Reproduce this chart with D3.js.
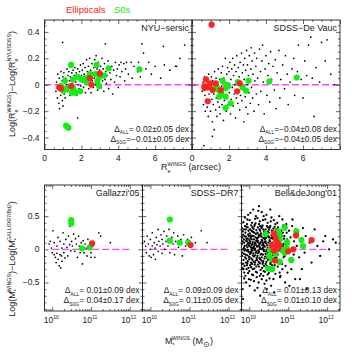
<!DOCTYPE html>
<html>
<head>
<meta charset="utf-8">
<script src="https://cdn.jsdelivr.net/npm/d3@7"></script>
<style>
body { margin: 0; background: #fff; }
svg { font-family: "Liberation Sans", Arial, sans-serif; }
</style>
</head>
<body>
<svg id="chart" width="359" height="359"></svg>
<script>
// ---- data ----
// top row: [Re arcsec, dlog Re]
const nyuBlack = [[0.62,-0.05],[0.65,0.02],[0.7,-0.1],[0.72,0.08],[0.75,-0.02],[0.78,-0.14],[0.8,0.05],[0.82,-0.18],[0.85,0.0],[0.88,-0.08],[0.9,0.1],[0.92,-0.04],[0.95,0.03],[0.97,-0.12],[0.98,0.32],[1.0,-0.16],[1.0,0.06],
  [1.02,-0.02],[1.05,0.09],[1.07,-0.07],[1.1,0.02],[1.12,-0.1],[1.15,0.05],[1.17,-0.33],[1.2,0.0],[1.22,0.12],[1.25,-0.05],[1.27,0.07],[1.3,-0.02],[1.32,0.1],[1.35,0.03],[1.38,-0.08],[1.4,0.06],[1.42,0.14],[1.45,-0.03],[1.48,0.09],[1.5,0.01],
  [1.52,-0.06],[1.55,0.11],[1.57,0.04],[1.6,-0.01],[1.62,0.07],[1.65,0.13],[1.67,-0.04],[1.7,0.02],[1.72,0.09],[1.75,-0.08],[1.77,0.05],[1.8,-0.25],[1.8,0.12],[1.82,0.0],[1.85,0.07],[1.87,-0.03],[1.9,0.1],[1.92,0.04],[1.95,0.15],[1.97,-0.01],
  [2.0,0.07],[2.02,-0.05],[2.05,0.11],[2.07,0.02],[2.1,0.16],[2.12,-0.02],[2.15,0.08],[2.17,0.04],[2.2,0.13],[2.22,-0.06],[2.25,0.06],[2.28,0.19],[2.3,0.01],[2.32,0.1],[2.35,0.04],[2.38,0.14],[2.4,-0.03],[2.42,0.08],[2.45,0.2],[2.48,0.02],
  [2.5,0.11],[2.52,-0.06],[2.55,0.06],[2.58,0.16],[2.6,0.03],[2.62,0.09],[2.65,-0.02],[2.68,0.13],[2.7,0.05],[2.72,0.19],[2.75,0.0],[2.78,0.1],[2.8,0.22],[2.82,0.04],[2.85,0.12],[2.88,-0.04],[2.9,0.08],[2.92,0.17],[2.95,0.02],[2.98,0.11],
  [3.02,0.06],[3.05,0.14],[3.08,-0.02],[3.1,0.09],[3.12,0.2],[3.15,0.03],[3.18,0.12],[3.2,0.07],[3.22,-0.05],[3.25,0.16],[3.28,0.04],[3.3,0.31],[3.32,0.1],[3.35,0.01],[3.38,0.13],[3.4,0.07],[3.45,0.18],[3.48,-0.03],
  [3.55,0.09],[3.6,0.04],[3.65,0.14],[3.7,-0.07],[3.75,0.11],[3.8,0.02],[3.85,0.17],[3.9,0.07],[3.95,0.12],[4.0,-0.02],[4.05,0.15],[4.1,0.06],[4.15,0.17],[4.2,0.1],[4.3,0.16],[4.35,0.03],[4.4,0.12],[4.45,0.17],
  [4.55,0.08],[4.7,0.17],[4.75,0.05],[4.85,0.14],[5.05,0.1],[5.1,0.17],[5.2,0.06],[5.28,0.31],[5.37,0.24],[5.5,0.12],[5.65,0.17],[5.8,0.08],[6.0,0.14],[6.3,0.05],[6.45,0.29],[6.5,0.15],[6.8,0.11],[7.1,0.14],[7.16,0.14],[7.34,0.2],[7.6,0.3]];
const nyuS0 = [[1.44,0.15],[2.83,0.15],[3.48,0.125],[5.15,0.117],[1.11,0.03],[1.54,0.04],[1.8,0.06],[2.0,0.04],[2.28,0.02],[2.46,0.08],[2.78,0.08],[3.0,0.06],[3.24,0.07],[2.87,0.025],[2.96,-0.01],[0.89,-0.01],[1.02,-0.045],[1.2,-0.03],[1.48,-0.06],[1.67,-0.06],[1.94,-0.05],[1.17,-0.31],[1.3,-0.325],[2.22,0.05],[1.57,-0.03]];
const nyuE = [[0.8,-0.02],[0.89,-0.03],[1.44,-0.01],[2.46,0.05],[2.55,0.0],[3.0,0.085]];

const devBlack = [[0.55,-0.05],[0.6,0.02],[0.62,-0.15],[0.64,-0.46],[0.68,0.06],[0.7,-0.08],[0.72,-0.2],[0.75,0.0],[0.78,-0.11],[0.8,0.04],[0.82,-0.17],[0.85,-0.03],[0.88,-0.24],[0.9,0.08],[0.92,-0.07],[0.95,-0.13],[0.98,0.02],
  [1.0,-0.2],[1.02,-0.05],[1.05,0.06],[1.07,-0.11],[1.1,-0.28],[1.1,-0.39],[1.12,0.03],[1.15,-0.15],[1.18,-0.07],[1.2,-0.34],[1.22,0.1],[1.25,-0.02],[1.28,-0.19],[1.3,0.05],[1.32,-0.1],[1.35,-0.24],[1.38,0.0],[1.4,-0.13],[1.42,0.12],[1.45,-0.05],[1.48,-0.17],
  [1.5,0.04],[1.52,-0.22],[1.55,-0.1],[1.58,0.09],[1.6,-0.01],[1.62,-0.15],[1.65,0.14],[1.68,-0.06],[1.7,-0.27],[1.72,0.05],[1.75,-0.12],[1.78,0.02],[1.8,0.2],[1.82,-0.04],[1.85,-0.2],[1.88,0.08],[1.9,-0.08],[1.92,0.13],[1.95,-0.15],[1.98,0.01],
  [2.0,0.1],[2.02,-0.06],[2.05,0.17],[2.08,-0.22],[2.1,0.04],[2.12,-0.11],[2.15,0.12],[2.18,-0.02],[2.2,0.2],[2.22,-0.16],[2.25,0.07],[2.28,-0.07],[2.3,0.15],[2.32,0.0],[2.35,-0.25],[2.38,0.1],[2.4,-0.1],[2.42,0.22],[2.45,0.03],[2.48,-0.14],
  [2.5,0.13],[2.52,-0.04],[2.55,0.06],[2.58,-0.19],[2.6,0.17],[2.62,-0.08],[2.65,0.01],[2.68,0.24],[2.7,-0.12],[2.72,0.09],[2.75,-0.03],[2.78,0.15],[2.8,-0.28],[2.82,0.04],[2.85,0.2],[2.88,-0.09],[2.9,0.11],[2.92,-0.17],[2.95,0.26],[2.98,0.0],
  [3.0,0.15],[3.02,-0.22],[3.05,0.07],[3.08,-0.06],[3.1,0.22],[3.12,0.02],[3.15,-0.14],[3.18,0.12],[3.2,0.28],[3.22,-0.02],[3.25,0.18],[3.28,-0.1],[3.3,0.08],[3.35,-0.2],[3.38,0.24],[3.4,0.03],[3.45,0.14],[3.48,-0.07],
  [3.5,0.2],[3.55,0.05],[3.6,-0.15],[3.65,0.27],[3.7,0.1],[3.72,-0.05],[3.78,0.18],[3.82,0.3],[3.85,0.02],[3.9,-0.22],[3.95,0.12],[4.0,0.22],[4.05,-0.08],[4.1,0.07],[4.15,0.16],[4.2,-0.13],[4.25,0.25],[4.3,0.04],[4.38,0.14],[4.45,-0.04],
  [4.5,0.19],[4.55,-0.18],[4.6,0.09],[4.7,0.26],[4.75,-0.1],[4.8,0.04],[4.9,0.15],[5.0,-0.03],[5.05,0.22],[5.15,0.08],[5.2,-0.15],[5.3,0.02],[5.4,0.12],[5.5,0.2],[5.55,-0.08],[5.7,0.1],[5.75,0.3],[5.9,0.04],[6.0,-0.1],[6.1,0.18],[6.2,0.07],[6.3,0.3],[6.42,0.36],[6.5,0.05],[6.6,-0.24],[6.7,0.13],[6.9,0.02],[7.0,0.32],[7.2,0.18],[7.3,0.34],[7.5,0.08],[7.7,0.0]];
const devS0 = [[1.65,0.03],[1.96,-0.01],[1.82,-0.025],[1.9,0.0],[1.43,-0.04],[1.56,-0.07],[1.47,-0.09],[1.82,-0.09],[2.09,-0.14],[1.82,-0.175],[2.48,0.02],[2.74,-0.02],[2.92,-0.045],[3.06,0.03],[4.18,0.025],[5.66,0.055],[1.35,-0.02],[1.12,-0.025]];
const devE = [[1.06,0.455],[0.76,0.04],[0.97,0.01],[0.67,-0.01],[0.67,-0.025],[0.9,-0.02],[1.12,-0.04],[0.85,-0.125],[1.56,-0.04],[2.44,-0.05],[2.58,0.01],[1.29,0.01]];

// bottom row: [log10 M*, dlog M*]
const gallBlack = [[9.92,0.08],[9.95,0.12],[9.98,0.02],[10.0,-0.05],[10.02,0.28],[10.05,0.1],[10.05,-0.08],[10.08,-0.12],[10.1,-0.2],[10.12,-0.06],[10.12,0.05],[10.15,-0.15],[10.15,0.18],[10.18,-0.25],[10.2,-0.08],[10.2,0.12],[10.22,-0.28],[10.24,-0.1],[10.25,-0.18],[10.25,0.02],[10.28,0.25],[10.3,-0.05],[10.3,0.08],[10.33,-0.13],[10.35,0.15],[10.38,0.03],[10.4,-0.1],[10.42,0.2],[10.45,0.35],[10.45,0.07],[10.48,-0.02],[10.5,0.12],[10.52,0.05],[10.55,0.23],[10.58,-0.03],[10.6,0.16],[10.62,0.08],[10.65,-0.12],[10.68,0.2],[10.7,0.05],[10.72,-0.05],[10.75,0.1],[10.78,-0.22],[10.8,0.13],[10.82,-0.05],[10.85,0.08],[10.88,0.02],[10.9,-0.1],[10.92,0.15],[11.0,-0.05],[11.0,-0.12],[11.05,0.05],[11.1,-0.12],[11.2,0.25],[11.25,0.2],[11.5,0.1]];
const gallS0 = [[10.49,0.44],[10.49,0.39],[10.77,0.015],[10.97,0.03]];
const gallE = [[11.03,0.09]];

const dr7Black = [[9.85,0.12],[9.88,0.05],[9.9,-0.05],[9.92,0.2],[9.95,0.08],[9.97,-0.1],[10.0,0.0],[10.0,0.15],[10.02,-0.12],[10.05,0.25],[10.05,0.05],[10.08,-0.08],[10.1,0.1],[10.12,0.02],[10.13,-0.15],[10.15,0.18],[10.17,0.07],[10.2,-0.03],[10.2,0.3],[10.22,0.12],[10.25,0.05],[10.27,0.22],[10.3,-0.06],[10.3,0.15],[10.32,0.08],[10.35,0.27],[10.37,0.0],[10.4,0.12],[10.42,0.2],[10.45,0.05],[10.48,0.3],[10.5,-0.05],[10.55,0.18],[10.58,0.08],[10.6,0.25],[10.62,-0.08],[10.65,0.12],[10.7,0.2],[10.72,0.03],[10.78,0.15],[10.82,-0.1],[10.85,0.22],[10.9,0.05],[10.95,0.15],[11.05,0.18],[11.15,0.1],[11.3,0.28],[11.45,0.1]];
const dr7S0 = [[10.5,0.45],[10.5,0.13],[10.75,0.1],[10.97,0.1]];
const dr7E = [[11.03,0.065]];

const bdjBlack = [
  [9.81,0.32],[9.82,-0.05],[9.83,0.12],[9.84,-0.22],[9.85,0.41],[9.86,0.02],[9.87,-0.35],[9.88,0.2],[9.89,-0.12],[9.81,0.08],[9.82,-0.28],[9.83,0.27],[9.84,0.0],[9.85,-0.16],[9.86,0.15],[9.87,-0.44],[9.88,0.05],[9.89,0.35],[9.81,-0.1],[9.83,-0.6],[9.84,0.22],[9.86,-0.07],[9.87,0.1],[9.88,-0.25],[9.89,0.48],[9.82,0.18],[9.85,-0.3],[9.86,0.3],[9.88,-0.02],[9.84,-0.75],
  [9.9,0.25],[9.91,-0.08],[9.92,0.13],[9.93,-0.3],[9.94,0.38],[9.95,0.03],[9.96,-0.18],[9.97,0.22],[9.98,-0.04],[9.99,0.1],[9.9,-0.4],[9.91,0.3],[9.92,-0.14],[9.93,0.06],[9.94,-0.24],[9.95,0.45],[9.96,0.16],[9.97,-0.36],[9.98,0.28],[9.99,-0.11],[9.9,0.0],[9.91,0.19],[9.92,-0.5],[9.93,0.34],[9.94,-0.02],[9.95,-0.21],[9.96,0.09],[9.97,0.52],[9.98,-0.28],[9.99,0.2],[9.91,-0.2],[9.93,0.16],[9.95,-0.09],[9.96,0.33],[9.97,-0.01],[9.98,0.07],[9.99,-0.45],[9.94,0.12],
  [10.0,0.14],[10.01,-0.12],[10.02,0.3],[10.03,-0.04],[10.04,0.21],[10.05,-0.27],[10.06,0.06],[10.07,0.4],[10.08,-0.16],[10.09,0.11],[10.0,-0.33],[10.01,0.24],[10.02,-0.07],[10.03,0.17],[10.04,-0.2],[10.05,0.36],[10.06,-0.01],[10.07,-0.38],[10.08,0.27],[10.09,-0.09],[10.0,0.05],[10.01,0.44],[10.02,-0.24],[10.03,0.09],[10.04,-0.46],[10.05,0.19],[10.06,-0.14],[10.07,0.02],[10.08,0.33],[10.09,-0.3],[10.0,-0.15],[10.02,0.12],[10.03,0.55],[10.04,0.03],[10.05,-0.05],[10.06,0.28],[10.07,-0.22],[10.08,0.08],[10.09,0.2],[10.01,-0.55],[10.06,0.15],[10.08,-0.02],
  [10.1,0.26],[10.11,-0.06],[10.12,0.15],[10.13,-0.29],[10.14,0.37],[10.15,0.01],[10.16,-0.17],[10.17,0.23],[10.18,-0.03],[10.19,0.12],[10.1,-0.39],[10.11,0.31],[10.12,-0.11],[10.13,0.07],[10.14,-0.23],[10.15,0.46],[10.16,0.18],[10.17,-0.34],[10.18,0.29],[10.19,-0.13],[10.1,0.02],[10.11,0.2],[10.12,-0.48],[10.13,0.35],[10.14,-0.01],[10.15,-0.2],[10.16,0.09],[10.17,0.5],[10.18,-0.26],[10.19,0.17],[10.11,-0.19],[10.12,0.04],[10.13,0.25],[10.14,0.1],[10.15,-0.09],[10.16,0.39],[10.17,-0.05],[10.18,0.13],[10.19,-0.42],[10.1,0.6],[10.14,-0.62],[10.18,0.06],
  [10.2,0.16],[10.21,-0.1],[10.22,0.33],[10.23,-0.02],[10.24,0.22],[10.25,-0.26],[10.26,0.07],[10.27,0.42],[10.28,-0.15],[10.29,0.11],[10.2,-0.35],[10.21,0.25],[10.22,-0.06],[10.23,0.18],[10.24,-0.19],[10.25,0.38],[10.26,0.0],[10.27,-0.4],[10.28,0.28],[10.29,-0.08],[10.2,0.04],[10.21,0.47],[10.22,-0.23],[10.23,0.1],[10.24,-0.5],[10.25,0.2],[10.26,-0.13],[10.27,0.03],[10.28,0.35],[10.29,-0.31],[10.2,-0.16],[10.22,0.13],[10.23,0.58],[10.24,0.05],[10.25,-0.04],[10.26,0.3],[10.27,-0.21],[10.28,0.09],[10.29,0.21],[10.21,-0.58],[10.25,0.65],[10.28,-0.7],
  [10.3,0.24],[10.31,-0.07],[10.32,0.14],[10.33,-0.28],[10.34,0.36],[10.35,0.02],[10.36,-0.18],[10.37,0.22],[10.38,-0.03],[10.39,0.11],[10.3,-0.37],[10.31,0.32],[10.32,-0.12],[10.33,0.06],[10.34,-0.22],[10.35,0.44],[10.36,0.17],[10.37,-0.33],[10.38,0.27],[10.39,-0.14],[10.3,0.01],[10.31,0.19],[10.32,-0.45],[10.33,0.34],[10.34,0.0],[10.35,-0.2],[10.36,0.08],[10.37,0.5],[10.38,-0.25],[10.39,0.18],[10.31,-0.17],[10.33,0.13],[10.35,-0.08],[10.36,0.3],[10.37,-0.01],[10.38,0.05],[10.39,-0.52],[10.34,0.1],[10.32,0.56],[10.36,-0.4],
  [10.4,0.15],[10.41,-0.11],[10.42,0.3],[10.43,-0.03],[10.44,0.2],[10.45,-0.25],[10.46,0.06],[10.47,0.4],[10.48,-0.16],[10.49,0.1],[10.4,-0.34],[10.41,0.24],[10.42,-0.07],[10.43,0.17],[10.44,-0.19],[10.45,0.35],[10.46,-0.01],[10.47,-0.38],[10.48,0.27],[10.49,-0.09],[10.4,0.04],[10.41,0.45],[10.42,-0.22],[10.43,0.09],[10.44,-0.47],[10.45,0.19],[10.46,-0.13],[10.47,0.02],[10.48,0.33],[10.49,-0.29],[10.42,0.12],[10.44,0.52],[10.46,0.26],[10.47,-0.05],[10.49,0.2],[10.45,-0.6],
  [10.5,0.25],[10.51,-0.06],[10.52,0.14],[10.53,-0.27],[10.54,0.35],[10.55,0.02],[10.56,-0.17],[10.57,0.21],[10.58,-0.03],[10.59,0.1],[10.5,-0.36],[10.51,0.3],[10.52,-0.12],[10.53,0.06],[10.54,-0.22],[10.55,0.42],[10.56,0.17],[10.57,-0.32],[10.58,0.28],[10.59,-0.14],[10.5,0.0],[10.51,0.18],[10.52,-0.44],[10.53,0.33],[10.55,-0.2],[10.56,0.08],[10.57,0.48],[10.58,-0.24],[10.59,0.18],[10.53,0.12],[10.56,-0.55],[10.54,0.6],
  [10.6,0.16],[10.61,-0.09],[10.62,0.31],[10.63,-0.02],[10.64,0.21],[10.65,-0.24],[10.66,0.07],[10.67,0.38],[10.68,-0.15],[10.69,0.11],[10.6,-0.32],[10.61,0.25],[10.62,-0.06],[10.63,0.17],[10.64,-0.19],[10.65,0.34],[10.66,0.0],[10.67,-0.37],[10.68,0.27],[10.69,-0.1],[10.6,0.05],[10.62,-0.45],[10.63,0.44],[10.65,0.12],[10.66,-0.13],[10.68,0.03],[10.69,0.3],[10.64,-0.65],
  [10.7,0.22],[10.71,-0.05],[10.72,0.14],[10.73,-0.26],[10.74,0.33],[10.75,0.02],[10.76,-0.16],[10.77,0.2],[10.78,-0.35],[10.79,0.09],[10.7,-0.12],[10.72,0.4],[10.73,0.06],[10.75,-0.21],[10.76,0.27],[10.77,-0.02],[10.78,0.15],[10.79,-0.42],[10.71,0.3],[10.74,-0.08],[10.77,0.5],[10.79,0.24],
  [10.8,0.12],[10.81,-0.18],[10.82,0.28],[10.83,-0.04],[10.84,0.2],[10.85,-0.3],[10.86,0.05],[10.87,0.36],[10.88,-0.12],[10.89,0.16],[10.8,-0.4],[10.82,0.0],[10.84,-0.22],[10.86,0.25],[10.88,0.08],[10.85,0.45],
  [10.9,0.2],[10.91,-0.1],[10.92,0.3],[10.93,-0.25],[10.94,0.06],[10.95,0.38],[10.96,-0.05],[10.97,0.15],[10.98,-0.35],[10.99,0.1],[10.92,-0.5],[10.96,0.25],
  [11.0,0.08],[11.02,0.28],[11.04,-0.15],[11.06,0.18],[11.08,-0.3],[11.1,0.35],[11.12,0.02],[11.14,-0.08],[11.16,0.22],[11.18,-0.45],[11.03,-0.55],[11.11,0.45],[11.15,0.12],[11.19,0.3],
  [11.22,0.05],[11.25,0.25],[11.28,-0.12],[11.32,0.15],[11.35,-0.3],[11.38,0.32],[11.42,-0.05],[11.45,0.2],[11.48,-0.6],[11.3,-0.45],
  [11.55,0.1],[11.6,-0.2],[11.68,0.3],[11.75,0.05],[11.82,-0.1],[11.9,0.12],[11.95,0.2],[12.05,0.0],[12.15,0.15],[12.22,0.1]];
const bdjS0 = [[10.42,0.23],[10.74,0.27],[10.78,0.21],[10.91,0.33],[10.97,0.11],[11.21,0.27],[11.34,0.14],[11.38,0.05],[10.72,0.1],[10.53,-0.01],[10.51,-0.1],[10.57,-0.15],[10.68,-0.07],[10.91,-0.05],[11.08,-0.16],[10.78,-0.19],[10.48,-0.29],[10.59,-0.3],[10.85,-0.01],[10.61,0.03],[10.96,0.02],[10.78,0.14]];
const bdjE = [[10.63,0.24],[11.2,0.21],[11.6,0.14],[10.72,0.1],[10.66,0.03],[10.63,-0.02],[10.74,0.015],[10.78,0.06],[11.0,-0.03],[11.13,0.0],[10.66,-0.17],[10.68,0.16],[10.57,0.06]];

// panel texts
const panelNames = ['NYU\u2212sersic', 'SDSS\u2212De Vauc', "Gallazzi'05", 'SDSS\u2212DR7', "Bell&deJong'01"];
const statsAll = [' 0.02\u00b10.05 dex', '\u22120.04\u00b10.08 dex', ' 0.01\u00b10.09 dex', ' 0.09\u00b10.09 dex', ' 0.01\u00b10.13 dex'];
const statsS0G = ['\u22120.01\u00b10.05 dex', '\u22120.04\u00b10.05 dex', ' 0.04\u00b10.17 dex', ' 0.11\u00b10.05 dex', ' 0.01\u00b10.10 dex'];
const reTicks = [0, 2, 4, 6];
const massTicks = [10, 11, 12];
const dTopTicks = [0.4, 0.2, 0, -0.2, -0.4];
const dBotTicks = [0.5, 0, -0.5];

const RED = '#ff2222';
const GREEN = '#11ee11';
const svg = d3.select('#chart');

// text with sub/superscript parts: [text, kind, dx]
function rich(sel, parts, size) {
    let cur = 0;
    parts.forEach(([t, k, dx, fs]) => {
        const off = k === 'sub' ? size * 0.3 : k === 'sup' ? -size * 0.42 : 0;
        const sp = sel.append('tspan').text(t)
            .attr('dy', off - cur)
            .style('font-size', (fs || (k ? size * 0.6 : size)) + 'px');
        if (dx) sp.attr('dx', dx);
        cur = off;
    });
    return sel;
}

function tickAxis(g, axisFn, scale, values, size, tr) {
    g.append('g').attr('transform', tr)
        .call(axisFn(scale).tickValues(values).tickSize(-size).tickSizeOuter(0).tickFormat(''))
        .call(a => a.select('.domain').remove())
        .call(a => a.selectAll('line').attr('stroke', '#222').attr('stroke-width', 0.7));
}

function drawPanel(cfg) {
    const x = cfg.log
        ? d3.scaleLog().domain([10 ** 9.8, 10 ** 12.33]).range([cfg.x0, cfg.x1])
        : d3.scaleLinear().domain([0, 8]).range([cfg.x0, cfg.x1]);
    const y = d3.scaleLinear().domain(cfg.yDomain).range(cfg.yRange);
    const xv = d => cfg.log ? x(10 ** d[0]) : x(d[0]);
    const g = svg.append('g');
    const [yb, yt] = cfg.yRange;

    // zero line
    const zx = cfg.log ? [x(1e10), x(1e12)] : [x(0), x(8)];
    g.append('line')
        .attr('x1', zx[0]).attr('x2', zx[1]).attr('y1', y(0)).attr('y2', y(0))
        .attr('stroke', '#ff44ff').attr('stroke-width', 1.3).attr('stroke-dasharray', '7,3');

    g.append('g').selectAll('circle').data(cfg.black).join('circle')
        .attr('cx', xv).attr('cy', d => y(d[1])).attr('r', cfg.dot || 0.85).attr('fill', '#000');
    g.append('g').selectAll('circle').data(cfg.s0).join('circle')
        .attr('cx', xv).attr('cy', d => y(d[1])).attr('r', 3.1).attr('fill', GREEN);
    g.append('g').selectAll('circle').data(cfg.ell).join('circle')
        .attr('cx', xv).attr('cy', d => y(d[1])).attr('r', 3.1).attr('fill', RED);

    // ticks inside on all four sides
    let xMaj, xMin, yMaj, yMin;
    if (cfg.log) {
        xMaj = massTicks.map(v => 10 ** v);
        xMin = [];
        [9, 10, 11, 12].forEach(e => d3.range(2, 10).forEach(k => {
            const v = k * 10 ** e;
            if (v > 10 ** 9.8 && v < 10 ** 12.33) xMin.push(v);
        }));
        yMaj = dBotTicks;
        yMin = d3.range(-9, 10).map(v => v / 10).filter(v => Math.abs(v * 10) % 5 !== 0);
    } else {
        xMaj = [0, 2, 4, 6, 8];
        xMin = d3.range(0, 8.01, 0.5).filter(v => v % 2 !== 0);
        yMaj = dTopTicks;
        yMin = d3.range(-9, 10).map(v => v * 0.05).filter((v, i) => (i - 9) % 4 !== 0);
    }
    tickAxis(g, d3.axisBottom, x, xMaj, 4, `translate(0,${yb})`);
    tickAxis(g, d3.axisBottom, x, xMin, 2, `translate(0,${yb})`);
    tickAxis(g, d3.axisTop, x, xMaj, 4, `translate(0,${yt})`);
    tickAxis(g, d3.axisTop, x, xMin, 2, `translate(0,${yt})`);
    tickAxis(g, d3.axisLeft, y, yMaj, 4, `translate(${cfg.x0},0)`);
    tickAxis(g, d3.axisLeft, y, yMin, 2, `translate(${cfg.x0},0)`);
    tickAxis(g, d3.axisRight, y, yMaj, 4, `translate(${cfg.x1},0)`);
    tickAxis(g, d3.axisRight, y, yMin, 2, `translate(${cfg.x1},0)`);

    g.append('rect')
        .attr('x', cfg.x0).attr('y', yt).attr('width', cfg.x1 - cfg.x0).attr('height', yb - yt)
        .attr('fill', 'none').attr('stroke', '#222').attr('stroke-width', 0.9);

    // tick labels
    if (cfg.log) {
        massTicks.forEach(v => {
            const t = g.append('text').attr('x', x(10 ** v) - 1).attr('y', yb + 12)
                .attr('text-anchor', 'middle').attr('fill', '#222');
            rich(t, [['10', 0], [String(v), 'sup']], 8.5);
        });
    } else {
        reTicks.forEach(v => {
            g.append('text').attr('x', x(v)).attr('y', yb + 11)
                .attr('text-anchor', 'middle').attr('fill', '#222')
                .style('font-size', '8.5px').text(v);
        });
    }
    if (cfg.yLabels) {
        (cfg.log ? dBotTicks : dTopTicks).forEach(v => {
            g.append('text').attr('x', cfg.x0 - 5).attr('y', y(v)).attr('dy', '0.35em')
                .attr('text-anchor', 'end').attr('fill', '#222').style('font-size', '8.5px')
                .text(d3.format('')(v).replace('-', '\u2212'));
        });
    }

    // panel name and statistics
    g.append('text').attr('x', cfg.x1 - 3).attr('y', yt + 11)
        .attr('text-anchor', 'end').attr('fill', '#222').style('font-size', '9px')
        .text(panelNames[cfg.i]);
    const s1 = g.append('text').attr('x', cfg.x1 - 3).attr('y', yb - 18)
        .attr('text-anchor', 'end').attr('fill', '#222');
    rich(s1, [['\u0394', 0], ['ALL', 'sub'], ['=' + statsAll[cfg.i], 0]], 8.4);
    const s2 = g.append('text').attr('x', cfg.x1 - 3).attr('y', yb - 8)
        .attr('text-anchor', 'end').attr('fill', '#222');
    rich(s2, [['\u0394', 0], ['S0G', 'sub'], ['=' + statsS0G[cfg.i], 0]], 8.4);
}

const topY = { yDomain: [-0.49, 0.49], yRange: [149.5, 20] };
const botY = { yDomain: [-0.93, 0.97], yRange: [311, 185] };

drawPanel({ i: 0, log: false, x0: 44.5, x1: 192, yLabels: true, black: nyuBlack, s0: nyuS0, ell: nyuE, ...topY });
drawPanel({ i: 1, log: false, x0: 192, x1: 340, black: devBlack, s0: devS0, ell: devE, ...topY });
drawPanel({ i: 2, log: true, x0: 44.5, x1: 142.5, yLabels: true, black: gallBlack, s0: gallS0, ell: gallE, ...botY });
drawPanel({ i: 3, log: true, x0: 142.5, x1: 241.5, black: dr7Black, s0: dr7S0, ell: dr7E, ...botY });
drawPanel({ i: 4, log: true, x0: 241.5, x1: 340, dot: 1.15, black: bdjBlack, s0: bdjS0, ell: bdjE, ...botY });

// legend
svg.append('text').attr('x', 66).attr('y', 13).attr('fill', RED).style('font-size', '9.5px').text('Ellipticals');
svg.append('text').attr('x', 114).attr('y', 13).attr('fill', GREEN).style('font-size', '9.5px').text('S0s');

// axis titles
const xt1 = svg.append('text').attr('x', 191).attr('y', 170).attr('text-anchor', 'middle').attr('fill', '#222');
rich(xt1, [['R', 0], ['e', 'sub'], ['WINGS', 'sup', -3], [' (arcsec)', 0]], 9);
const xt2 = svg.append('text').attr('x', 189).attr('y', 344).attr('text-anchor', 'middle').attr('fill', '#222');
rich(xt2, [['M', 0], ['*', 'sub'], ['WINGS', 'sup', -3], [' (M', 0], ['\u2299', 'sub', 0, 7.5], [')', 0]], 9);

const yt1 = svg.append('text').attr('transform', 'translate(15,84) rotate(-90)')
    .attr('text-anchor', 'middle').attr('fill', '#222');
rich(yt1, [['Log(R', 0], ['e', 'sub'], ['WINGS', 'sup', -3], [')\u2212Log(R', 0], ['e', 'sub'], ['NYU/SDSS', 'sup', -3], [')', 0]], 9);
const yt2 = svg.append('text').attr('transform', 'translate(15,259) rotate(-90)')
    .attr('text-anchor', 'middle').attr('fill', '#222');
rich(yt2, [['Log(M', 0], ['*', 'sub'], ['WINGS', 'sup', -3], [')\u2212Log(M', 0], ['*', 'sub'], ['GALL/DR7/BdJ', 'sup', -3], [')', 0]], 9);
</script>
</body>
</html>
